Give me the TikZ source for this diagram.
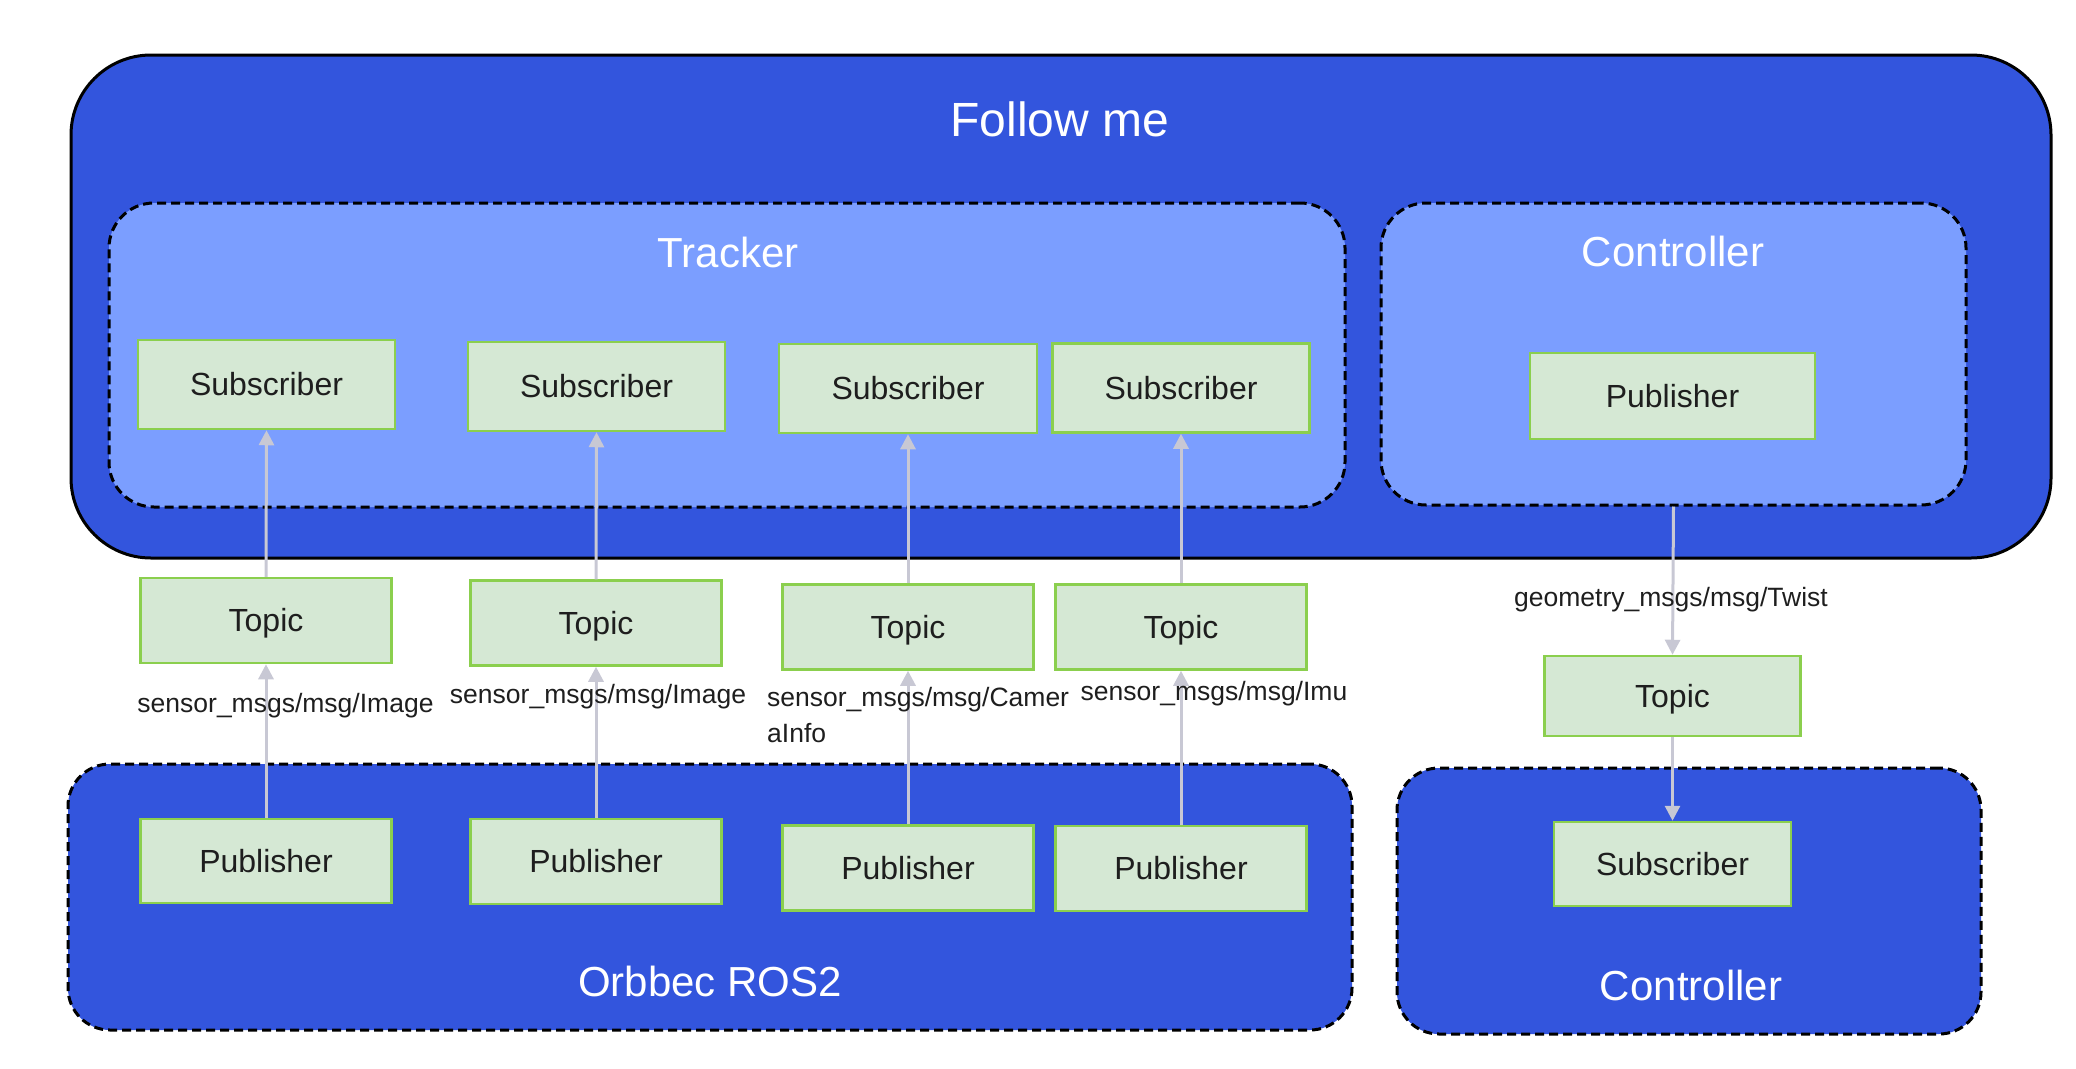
\documentclass[tikz,border=0pt]{standalone}
\usepackage{fontspec}
\setmainfont{Liberation Sans}
\usetikzlibrary{arrows.meta}
\definecolor{deepblue}{HTML}{3355DD}
\definecolor{lightblue}{HTML}{7B9EFF}
\definecolor{boxfill}{HTML}{D5E8D4}
\definecolor{boxline}{HTML}{8BCF4E}
\definecolor{conn}{HTML}{C8C8D4}
\definecolor{txt}{HTML}{1E1E1E}
\newcommand{\lowtxt}[1]{\raisebox{-3pt}[\height][\depth]{#1}}
\tikzset{
  gbox/.style={draw=boxline, fill=boxfill, line width=2.5pt, inner sep=0pt,
    text=txt, font=\fontsize{32}{38}\selectfont},
  outerbox/.style={draw=black, fill=deepblue, line width=3pt, rounded corners=80pt, inner sep=0pt},
  dashbox/.style={draw=black, line width=3pt, dash pattern=on 9pt off 5pt, rounded corners=45pt, inner sep=0pt},
  title/.style={text=white, font=\fontsize{42}{50}\selectfont, inner sep=0pt},
  lbl/.style={text=txt, font=\fontsize{26.5}{36}\selectfont, inner sep=0pt},
  conarrow/.style={draw=conn, line width=3pt, -{Triangle[width=15pt,length=15pt]}},
}
\begin{document}
\begin{tikzpicture}[x=1pt,y=-1pt]
\useasboundingbox (0,0) rectangle (2076,1068);
% containers
\node[outerbox, minimum width=1980pt, minimum height=503pt] (follow) at (1061,306.5) {};
\node[dashbox, fill=lightblue, minimum width=1236pt, minimum height=304pt] (tracker) at (727,355) {};
\node[dashbox, fill=lightblue, minimum width=585pt, minimum height=302pt] (ctrlbox) at (1673.5,354) {};
\node[dashbox, fill=deepblue, rounded corners=42pt, minimum width=1284pt, minimum height=266pt] (orbbec) at (710,897) {};
\node[dashbox, fill=deepblue, rounded corners=42pt, minimum width=584pt, minimum height=266pt] (ctrllow) at (1689,901) {};
% titles
\node[title, font=\fontsize{48}{56}\selectfont] (t0) at (1060,119) {Follow me};
\node[title] (t1) at (728,252) {Tracker};
\node[title] (t2) at (1673,251) {Controller};
\node[title] (t3) at (710,981) {Orbbec ROS2};
\node[title] (t4) at (1691,985) {Controller};
% subscribers in tracker
\node[gbox, minimum width=257pt, minimum height=89pt] (s1) at (266.5,384.5) {Subscriber};
\node[gbox, minimum width=257pt, minimum height=89pt] (s2) at (596.5,386.5) {Subscriber};
\node[gbox, minimum width=258pt, minimum height=89pt] (s3) at (908,388.5) {Subscriber};
\node[gbox, minimum width=257pt, minimum height=89pt] (s4) at (1181,388) {Subscriber};
\node[gbox, minimum width=285pt, minimum height=86pt] (pc) at (1672.5,396) {Publisher};
% topics
\node[gbox, minimum width=251pt, minimum height=85pt] (tp1) at (266,620.5) {\lowtxt{Topic}};
\node[gbox, minimum width=251pt, minimum height=85pt] (tp2) at (596,623) {\lowtxt{Topic}};
\node[gbox, minimum width=251pt, minimum height=85pt] (tp3) at (908,627) {\lowtxt{Topic}};
\node[gbox, minimum width=251pt, minimum height=85pt] (tp4) at (1181,627) {\lowtxt{Topic}};
\node[gbox, minimum width=256pt, minimum height=80pt] (tp5) at (1672.5,696) {\lowtxt{Topic}};
% publishers
\node[gbox, minimum width=251pt, minimum height=84pt] (p1) at (266,861) {Publisher};
\node[gbox, minimum width=251pt, minimum height=85pt] (p2) at (596,861.5) {Publisher};
\node[gbox, minimum width=251pt, minimum height=85pt] (p3) at (908,868) {Publisher};
\node[gbox, minimum width=251pt, minimum height=85pt] (p4) at (1181,868.5) {Publisher};
\node[gbox, minimum width=237pt, minimum height=84pt] (s5) at (1672.5,864) {Subscriber};
% connectors
\draw[conarrow] (p1.north) -- (tp1.south);
\draw[conarrow] (tp1.north) -- (s1.south);
\draw[conarrow] (p2.north) -- (tp2.south);
\draw[conarrow] (tp2.north) -- (s2.south);
\draw[conarrow] (p3.north) -- (tp3.south);
\draw[conarrow] (tp3.north) -- (s3.south);
\draw[conarrow] (p4.north) -- (tp4.south);
\draw[conarrow] (tp4.north) -- (s4.south);
\draw[conarrow] (ctrlbox.south) -- (tp5.north);
\draw[conarrow] (tp5.south) -- (s5.north);
% labels
\node[lbl] (l1) at (285.5,706) {sensor\_msgs/msg/Image};
\node[lbl] (l2) at (598,697) {sensor\_msgs/msg/Image};
\node[lbl, anchor=west, align=left] (l3) at (767,715) {sensor\_msgs/msg/Camer\\aInfo};
\node[lbl] (l4) at (1214,694) {sensor\_msgs/msg/Imu};
\node[lbl] (l5) at (1671,600) {geometry\_msgs/msg/Twist};
\end{tikzpicture}
\end{document}
